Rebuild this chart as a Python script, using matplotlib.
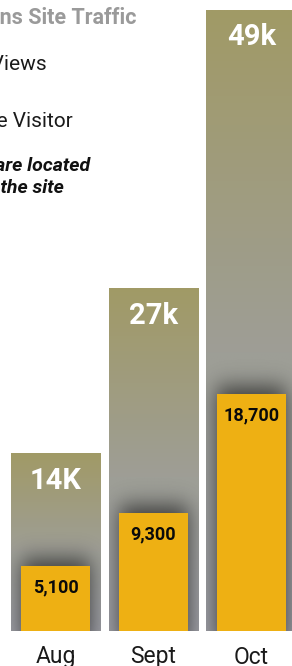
import math
import numpy as np
import matplotlib
matplotlib.use('Agg')
import matplotlib.pyplot as plt
from matplotlib import transforms

plt.rcParams['font.family'] = ['Roboto', 'DejaVu Sans']

months = ['Aug', 'Sept', 'Oct']
page_views = [14, 27, 49]            # thousands
page_view_labels = ['14K', '27k', '49k']
visitors = [5.1, 9.3, 18.7]          # thousands
visitor_labels = ['5,100', '9,300', '18,700']

W, H = 292, 666
fig = plt.figure(figsize=(W / 100, H / 100), dpi=100)
ax = fig.add_axes([0, 0, 1, 1])
ax.axis('off')

# pixel geometry -> data scales
px_x = 98.0          # px per category step
px_y = 621 / 49.0    # px per thousand
x0_px = 55.5
base_px = 35
xlim = (-x0_px / px_x, (W - x0_px) / px_x)
ylim = (-base_px / px_y, (H - base_px) / px_y)

big_w = 90 / px_x
small_w = 69 / px_x

top_col = np.array([161, 154, 102]) / 255
mid_col = np.array([158, 158, 150]) / 255
bot_col = np.array([157, 158, 165]) / 255
yellow = '#EEB013'

erf = np.vectorize(math.erf)

for i, (pv, vis) in enumerate(zip(page_views, visitors)):
    x0, x1 = i - big_w / 2, i + big_w / 2
    # vertical gradient of the page view bar
    ys = np.linspace(0, pv, 300)
    t = (pv - ys) / pv
    cols = np.empty((len(ys), 1, 3))
    for c in range(3):
        cols[:, 0, c] = np.interp(t, [0, 0.55, 1], [top_col[c], mid_col[c], bot_col[c]])
    ax.imshow(cols, extent=(x0, x1, 0, pv), origin='lower', aspect='auto', zorder=1,
              interpolation='bilinear')

    # soft shadow around the visitor bar
    xs = np.linspace(x0, x1, 120)
    ys2 = np.linspace(0, pv, 400)
    sx = 10 / px_x
    sy = 11 / px_y
    a, b = i - small_w / 2, i + small_w / 2
    top = vis + 7 / px_y
    fx = 0.5 * (erf((xs - a) / (math.sqrt(2) * sx)) - erf((xs - b) / (math.sqrt(2) * sx)))
    fy = 0.5 * (erf((ys2 + 1) / (math.sqrt(2) * sy)) - erf((ys2 - top) / (math.sqrt(2) * sy)))
    alpha = 0.62 * np.outer(fy, fx)
    shade = np.zeros((len(ys2), len(xs), 4))
    shade[..., 3] = alpha
    ax.imshow(shade, extent=(x0, x1, 0, pv), origin='lower', aspect='auto', zorder=2,
              interpolation='bilinear')

ax.bar(range(len(months)), visitors, width=small_w, color=yellow, zorder=3)

for i, (pv, vis) in enumerate(zip(page_views, visitors)):
    ax.text(i, pv - 27 / px_y, page_view_labels[i], ha='center', va='center',
            color='white', fontsize=21, fontweight='bold', zorder=4)
    ax.text(i, vis - 21 / px_y, visitor_labels[i], ha='center', va='center',
            color='#0a0a0a', fontsize=13, fontweight='bold', zorder=4)

ax.set_xlim(*xlim)
ax.set_ylim(*ylim)

# month labels (cropped at the bottom edge, as in the original)
tr = transforms.blended_transform_factory(ax.transData, fig.transFigure)
for i, m in enumerate(months):
    ax.text(i, 2.5 / H, m, transform=tr, ha='center', va='baseline',
            fontsize=16.5, color='#1a1a1a')

# header texts, partly cropped on the left
def ftext(x, y, s, **kw):
    fig.text(x / W, 1 - y / H, s, ha='right', va='baseline', **kw)

ftext(136, 24, 'Campaigns Site Traffic', fontsize=15.5, fontweight='bold', color='#9a9a9a')
ftext(47, 70, 'Page Views', fontsize=15, color='#1a1a1a')
ftext(73, 127, 'Unique Visitor', fontsize=15, color='#1a1a1a')
ftext(90, 171, '*Most visits are located', fontsize=14, fontweight='bold', style='italic', color='#111111')
ftext(64, 193, 'at the bottom of the site', fontsize=14, fontweight='bold', style='italic', color='#111111')

fig.savefig('out.png', dpi=100)
